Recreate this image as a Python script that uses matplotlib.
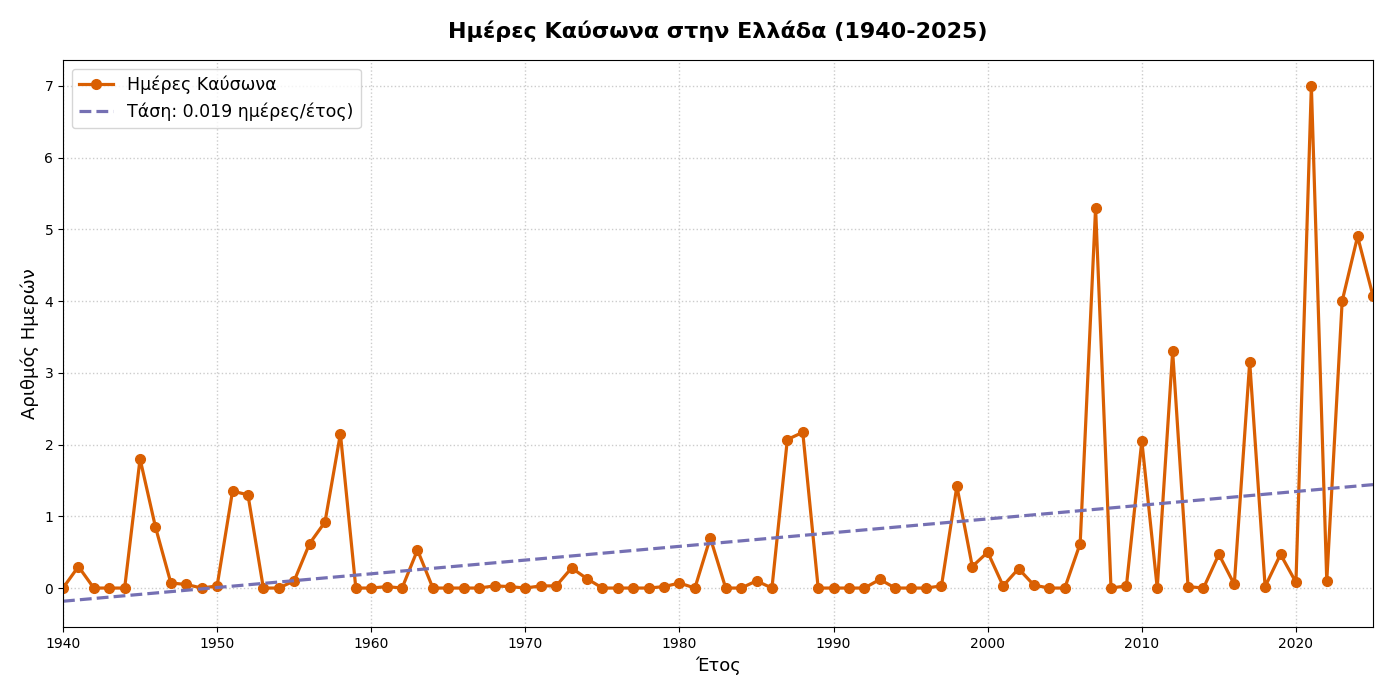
import matplotlib
matplotlib.use("Agg")
import matplotlib.pyplot as plt
import numpy as np

# =========================
# 資料
# =========================

years = list(range(1940, 2026))

heatwave_days = [
    0.0, 0.3, 0.0, 0.0, 0.0, 1.8, 0.85, 0.07, 0.05, 0.0,      # 1940-1949
    0.03, 1.35, 1.3, 0.0, 0.0, 0.1, 0.62, 0.92, 2.15, 0.0,    # 1950-1959
    0.0, 0.02, 0.0, 0.53, 0.0, 0.0, 0.0, 0.0, 0.03, 0.02,     # 1960-1969
    0.0, 0.03, 0.03, 0.28, 0.13, 0.0, 0.0, 0.0, 0.0, 0.02,    # 1970-1979
    0.07, 0.0, 0.7, 0.0, 0.0, 0.1, 0.0, 2.07, 2.17, 0.0,      # 1980-1989
    0.0, 0.0, 0.0, 0.12, 0.0, 0.0, 0.0, 0.03, 1.42, 0.3,      # 1990-1999
    0.5, 0.03, 0.27, 0.04, 0.0, 0.0, 0.62, 5.3, 0.0, 0.03,    # 2000-2009
    2.05, 0.0, 3.3, 0.02, 0.0, 0.47, 0.05, 3.15, 0.02, 0.47,  # 2010-2019
    0.08, 7.0, 0.1, 4.0, 4.9, 4.07,                           # 2020-2025
]

series_label = "Ημέρες Καύσωνα"
trend_label = "Τάση: 0.019 ημέρες/έτος)"
title = "Ημέρες Καύσωνα στην Ελλάδα (1940-2025)"
xlabel = "Έτος"
ylabel = "Αριθμός Ημερών"

# =========================
# 繪圖
# =========================

x = np.array(years)
y = np.array(heatwave_days)
coef = np.polyfit(x, y, 1)
trend = np.polyval(coef, x)

fig = plt.figure(figsize=(13.9, 6.95), dpi=100)
ax = fig.add_axes([63 / 1390, 1 - 627 / 695, (1373 - 63) / 1390, (627 - 60) / 695])

ax.plot(x, y, color="#D95F02", linewidth=2.3, marker="o", markersize=7,
        label=series_label)
ax.plot(x, trend, color="#7570B3", linewidth=2.3, linestyle="--",
        label=trend_label)

ax.set_xlim(1940, 2025)
ax.set_title(title, fontsize=16, fontweight="bold", pad=16)
ax.set_xlabel(xlabel, fontsize=13)
ax.set_ylabel(ylabel, fontsize=13)
ax.tick_params(labelsize=10)
ax.grid(True, linestyle=":", color="#cccccc", linewidth=1)
ax.legend(loc="upper left", fontsize=12.5)

plt.savefig("out.png", dpi=100)
plt.close()
